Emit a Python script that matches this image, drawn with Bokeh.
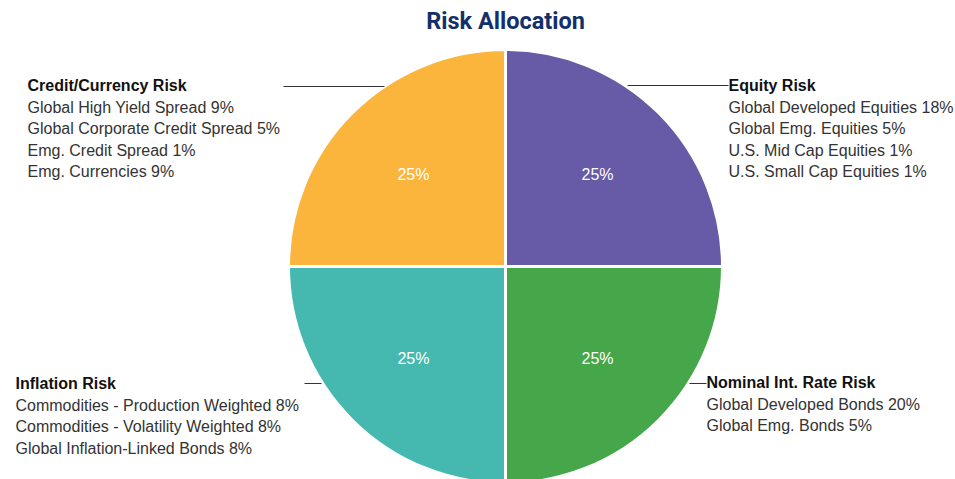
import math
from bokeh.plotting import figure
from bokeh.models import Range1d, ColumnDataSource
from bokeh.core.properties import value
from bokeh.embed import file_html
from bokeh.resources import INLINE

# ---- data ----
categories = ["Equity Risk", "Credit/Currency Risk", "Inflation Risk", "Nominal Int. Rate Risk"]
shares = [25, 25, 25, 25]
colors = ["#675BA7", "#FBB53D", "#45B8B0", "#46A64A"]

equity_items = ["Global Developed Equities", "Global Emg. Equities", "U.S. Mid Cap Equities", "U.S. Small Cap Equities"]
equity_weights = [18, 5, 1, 1]
credit_items = ["Global High Yield Spread", "Global Corporate Credit Spread", "Emg. Credit Spread", "Emg. Currencies"]
credit_weights = [9, 5, 1, 9]
inflation_items = ["Commodities - Production Weighted", "Commodities - Volatility Weighted", "Global Inflation-Linked Bonds"]
inflation_weights = [8, 8, 8]
nominal_items = ["Global Developed Bonds", "Global Emg. Bonds"]
nominal_weights = [20, 5]

# ---- layout ----
W, H = 955, 479
p = figure(width=W, height=H, output_backend="svg", toolbar_location=None,
           x_range=Range1d(0, W), y_range=Range1d(H, 0),
           min_border=0, outline_line_color=None)
p.axis.visible = False
p.grid.visible = False
p.background_fill_color = "white"
p.border_fill_color = "white"

cx, cy, R = 505, 266, 217
total = sum(shares)
starts, ends, lx, ly, labels = [], [], [], [], []
acc = 0.0
for s in shares:
    a0 = 2 * math.pi * acc / total
    acc += s
    a1 = 2 * math.pi * acc / total
    starts.append(a0)
    ends.append(a1)
    mid = (a0 + a1) / 2
    lx.append(cx + 0.6 * R * math.cos(mid))
    ly.append(cy - 0.6 * R * math.sin(mid))
    labels.append(f"{s}%")

src = ColumnDataSource(dict(start=starts, end=ends, color=colors,
                            x=[cx] * 4, y=[cy] * 4))
p.wedge(x="x", y="y", radius=R, start_angle="start", end_angle="end",
        fill_color="color", line_color="white", line_width=3, source=src)

p.text(x=lx, y=ly, text=labels, text_color="white", text_font=value("Liberation Sans"),
       text_font_size="16px", text_align="center", text_baseline="middle")

# title
p.text(x=[cx], y=[20], text=["Risk Allocation"], text_color="#13306B",
       text_font=value("Roboto"), text_font_style="bold", text_font_size="23.5px",
       text_align="center", text_baseline="middle")

# leader lines
p.line(x=[283, 384], y=[86, 86], line_color="#333333", line_width=1)
p.line(x=[627, 728], y=[85, 85], line_color="#333333", line_width=1)
p.line(x=[304, 321], y=[383, 383], line_color="#333333", line_width=1)
p.line(x=[689, 706], y=[383, 383], line_color="#333333", line_width=1)

groups = [
    (categories[1], credit_items, credit_weights, 27, 85),
    (categories[0], equity_items, equity_weights, 728, 85),
    (categories[2], inflation_items, inflation_weights, 15, 383),
    (categories[3], nominal_items, nominal_weights, 706, 382),
]
step = 21.6
for name, items, weights, x0, y0 in groups:
    p.text(x=[x0], y=[y0], text=[name], text_color="#111111",
           text_font=value("Liberation Sans"), text_font_style="bold",
           text_font_size="16px", text_align="left", text_baseline="middle")
    p.text(x=[x0] * len(items), y=[y0 + step * (i + 1) for i in range(len(items))],
           text=[f"{n} {w}%" for n, w in zip(items, weights)], text_color="#333333",
           text_font=value("Liberation Sans"), text_font_size="16px",
           text_align="left", text_baseline="middle")

open("out.html", "w").write(file_html(p, INLINE))
